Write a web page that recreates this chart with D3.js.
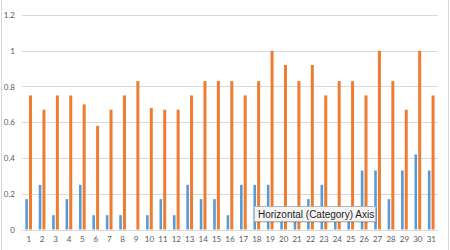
<!DOCTYPE html>
<html>
<head>
<meta charset="utf-8">
<script src="https://cdn.jsdelivr.net/npm/d3@7"></script>
<style>
  html, body { margin: 0; padding: 0; background: #fff; }
  svg { display: block; }
</style>
</head>
<body>
<svg id="chart" width="450" height="250"></svg>
<script>
const categories = ["1","2","3","4","5","6","7","8","9","10","11","12","13","14","15","16","17","18","19","20","21","22","23","24","25","26","27","28","29","30","31"];
const series1 = [0.17,0.25,0.08,0.17,0.25,0.08,0.08,0.08,0,0.08,0.17,0.08,0.25,0.17,0.17,0.08,0.25,0.25,0.25,0.08,0.08,0.17,0.25,0.08,0.08,0.33,0.33,0.17,0.33,0.42,0.33];
const series2 = [0.75,0.67,0.75,0.75,0.70,0.58,0.67,0.75,0.83,0.68,0.67,0.67,0.75,0.83,0.83,0.83,0.75,0.83,1.00,0.92,0.83,0.92,0.75,0.83,0.83,0.75,1.00,0.83,0.67,1.00,0.75];
const yTicks = [0, 0.2, 0.4, 0.6, 0.8, 1, 1.2];
const tooltipText = "Horizontal (Category) Axis";

(function () {
const svg = d3.select("#chart");
const mLeft = 22, mRight = 438, mTop = 15, mBottom = 229.5;

const x = d3.scaleBand().domain(categories).range([mLeft, mRight]).padding(0);
const y = d3.scaleLinear().domain([0, 1.2]).range([mBottom, mTop]);

// chart area borders
svg.append("line").attr("x1", 1.5).attr("x2", 1.5).attr("y1", 0).attr("y2", 250)
  .attr("stroke", "#d9d9d9").attr("stroke-width", 1);
svg.append("line").attr("x1", 448.5).attr("x2", 448.5).attr("y1", 0).attr("y2", 250)
  .attr("stroke", "#d9d9d9").attr("stroke-width", 1);

// gridlines
svg.append("g").selectAll("line").data(yTicks).join("line")
  .attr("x1", mLeft).attr("x2", mRight)
  .attr("y1", d => Math.round(y(d)) + 0.5).attr("y2", d => Math.round(y(d)) + 0.5)
  .attr("stroke", "#d9d9d9").attr("stroke-width", 1);

// bars
const bw = x.bandwidth();
const c = d => x(d) + bw / 2;
svg.append("g").selectAll("rect").data(categories.map((k, i) => ({k, v: series1[i]}))).join("rect")
  .attr("x", d => c(d.k) - 3.4).attr("width", 2.6)
  .attr("y", d => y(d.v)).attr("height", d => y(0) - y(d.v))
  .attr("fill", "#5B9BD5");
svg.append("g").selectAll("rect").data(categories.map((k, i) => ({k, v: series2[i]}))).join("rect")
  .attr("x", d => c(d.k) + 0.3).attr("width", 3)
  .attr("y", d => y(d.v)).attr("height", d => y(0) - y(d.v))
  .attr("fill", "#ED7D31");

// axes
const fontFam = "Lato, 'Open Sans', sans-serif";
const yAxis = svg.append("g").attr("transform", `translate(${mLeft},0)`)
  .call(d3.axisLeft(y).tickValues(yTicks).tickFormat(d3.format("~g")).tickSize(0).tickPadding(7));
yAxis.select(".domain").remove();
yAxis.selectAll("text").attr("fill", "#595959").style("font-family", fontFam).style("font-size", "8px");

const xAxis = svg.append("g").attr("transform", `translate(0,${mBottom})`)
  .call(d3.axisBottom(x).tickSize(0).tickPadding(7));
xAxis.select(".domain").remove();
xAxis.selectAll("text").attr("fill", "#595959").style("font-family", fontFam).style("font-size", "8px");

// tooltip
const tip = svg.append("g");
tip.append("rect").attr("x", 256).attr("y", 208).attr("width", 121).attr("height", 15)
  .attr("fill", "#000").attr("opacity", 0.12);
tip.append("rect").attr("x", 254.5).attr("y", 206.5).attr("width", 121).attr("height", 15)
  .attr("fill", "#f5f5f5").attr("stroke", "#b5b5b5").attr("stroke-width", 1);
tip.append("text").attr("x", 258).attr("y", 217.5).text(tooltipText)
  .attr("fill", "#222").style("font-family", "'Liberation Sans', Arial, sans-serif").style("font-size", "10px");
})();
</script>
</body>
</html>
